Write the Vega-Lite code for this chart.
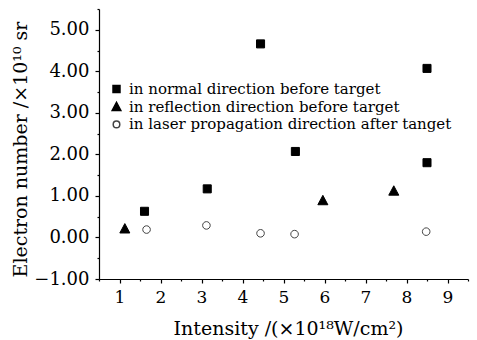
{
  "$schema": "https://vega.github.io/schema/vega-lite/v6.json",
  "width": 369,
  "height": 270,
  "autosize": {"type": "none"},
  "padding": {"left": 99, "top": 9, "right": 9, "bottom": 61},
  "background": "white",
  "config": {
    "view": {"stroke": null},
    "font": "DejaVu Serif",
    "axis": {
      "domainColor": "black",
      "domainWidth": 1.2,
      "tickColor": "black",
      "tickWidth": 1.2,
      "grid": false,
      "labelFont": "DejaVu Serif",
      "labelFontSize": 17,
      "labelColor": "black",
      "titleFont": "DejaVu Serif",
      "titleFontSize": 19,
      "titleFontWeight": "normal",
      "titleColor": "black"
    }
  },
  "data": {
    "values": [
      {"x": 1.61, "y": 0.63, "s": "in normal direction before target"},
      {"x": 3.14, "y": 1.17, "s": "in normal direction before target"},
      {"x": 4.44, "y": 4.66, "s": "in normal direction before target"},
      {"x": 5.29, "y": 2.07, "s": "in normal direction before target"},
      {"x": 8.5, "y": 4.07, "s": "in normal direction before target"},
      {"x": 8.5, "y": 1.8, "s": "in normal direction before target"},
      {"x": 1.13, "y": 0.21, "s": "in reflection direction before target"},
      {"x": 5.96, "y": 0.89, "s": "in reflection direction before target"},
      {"x": 7.69, "y": 1.12, "s": "in reflection direction before target"},
      {"x": 1.66, "y": 0.19, "s": "in laser propagation direction after tanget"},
      {"x": 3.12, "y": 0.29, "s": "in laser propagation direction after tanget"},
      {"x": 4.44, "y": 0.1, "s": "in laser propagation direction after tanget"},
      {"x": 5.27, "y": 0.08, "s": "in laser propagation direction after tanget"},
      {"x": 8.48, "y": 0.14, "s": "in laser propagation direction after tanget"}
    ]
  },
  "mark": {"type": "point", "size": 80, "strokeWidth": 1, "opacity": 1},
  "encoding": {
    "x": {
      "field": "x",
      "type": "quantitative",
      "scale": {"domain": [0.5, 9.5], "nice": false, "zero": false},
      "axis": {
        "values": [0.5, 1, 1.5, 2, 2.5, 3, 3.5, 4, 4.5, 5, 5.5, 6, 6.5, 7, 7.5, 8, 8.5, 9, 9.5],
        "labelExpr": "datum.value % 1 === 0 ? format(datum.value, 'd') : ''",
        "tickSize": {"condition": {"test": "datum.value % 1 !== 0", "value": 2}, "value": 4},
        "labelPadding": 6,
        "labelFlush": false,
        "title": "Intensity /(×10¹⁸W/cm²)",
        "titleY": 49,
        "titleBaseline": "middle",
        "titleX": 189
      }
    },
    "y": {
      "field": "y",
      "type": "quantitative",
      "scale": {"domain": [-1, 5.5], "nice": false, "zero": false},
      "axis": {
        "values": [-1, -0.5, 0, 0.5, 1, 1.5, 2, 2.5, 3, 3.5, 4, 4.5, 5, 5.5],
        "labelExpr": "datum.value % 1 === 0 ? format(datum.value, '.2f') : ''",
        "tickSize": {"condition": {"test": "datum.value % 1 !== 0", "value": 2}, "value": 4},
        "labelPadding": 6,
        "labelFontSize": 18,
        "labelFlush": false,
        "title": "Electron number /×10¹⁰ sr",
        "titleX": -79,
        "titleY": 140,
        "titleBaseline": "middle",
        "titleAngle": -90
      }
    },
    "shape": {
      "field": "s",
      "type": "nominal",
      "scale": {
        "domain": ["in normal direction before target", "in reflection direction before target", "in laser propagation direction after tanget"],
        "range": [
          "M-0.9,-0.9H0.9V0.9H-0.9Z",
          "M0,-1.15L1.12,0.95L-1.12,0.95Z",
          "M-0.85,0A0.85,0.85 0 1,0 0.85,0A0.85,0.85 0 1,0 -0.85,0Z"
        ]
      },
      "legend": {
        "title": null,
        "orient": "none",
        "legendX": 10,
        "legendY": 72.5,
        "symbolSize": 60,
        "labelFont": "DejaVu Serif",
        "labelFontSize": 15,
        "labelColor": "black",
        "labelOffset": 5,
        "rowPadding": 1.7,
        "padding": 0,
        "labelLimit": 500
      }
    },
    "fill": {
      "field": "s",
      "type": "nominal",
      "scale": {
        "domain": ["in normal direction before target", "in reflection direction before target", "in laser propagation direction after tanget"],
        "range": ["black", "black", "white"]
      },
      "legend": null
    },
    "stroke": {
      "field": "s",
      "type": "nominal",
      "scale": {
        "domain": ["in normal direction before target", "in reflection direction before target", "in laser propagation direction after tanget"],
        "range": ["black", "black", "#444444"]
      },
      "legend": null
    }
  }
}
